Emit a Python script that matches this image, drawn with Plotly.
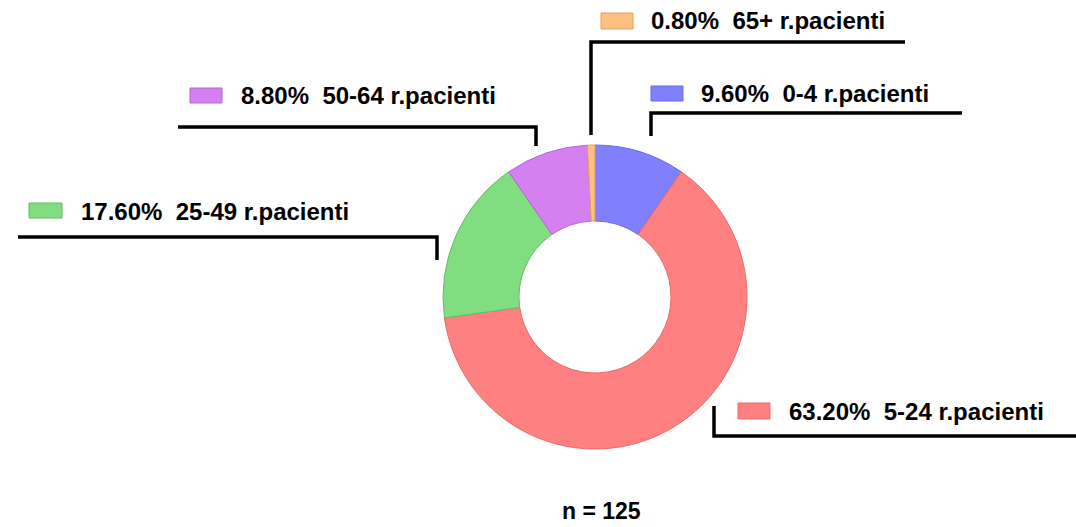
import plotly.graph_objects as go

# age groups and patient counts (n = 125)
groups = ["0-4 r.pacienti", "5-24 r.pacienti", "25-49 r.pacienti", "50-64 r.pacienti", "65+ r.pacienti"]
counts = [12, 79, 22, 11, 1]
colors = ["#8080ff", "#ff8080", "#80dd80", "#d580f0", "#ffbf80"]
edges = ["#6a6ae0", "#e86a6a", "#66bb66", "#b566d0", "#e0a060"]

W, H = 1076, 527
total = sum(counts)

# label layout in pixels: swatch box, text start, leader path
label_pos = {
	"0-4 r.pacienti": dict(box=(651, 86, 683, 101), tx=699, ty=93, path=[(651, 136), (651, 113), (962, 113)]),
	"5-24 r.pacienti": dict(box=(738, 403, 770, 419), tx=787, ty=411, path=[(714, 406), (714, 436), (1076, 436)]),
	"25-49 r.pacienti": dict(box=(29, 203, 62, 218), tx=79, ty=211, path=[(18, 237), (437, 237), (437, 260)]),
	"50-64 r.pacienti": dict(box=(190, 88, 222, 103), tx=239, ty=96, path=[(178, 127), (536, 127), (536, 146)]),
	"65+ r.pacienti": dict(box=(601, 13, 633, 29), tx=649, ty=21, path=[(591, 135), (591, 42), (905, 42)]),
}

def px(x):
	return x / W

def py(y):
	return 1 - y / H

cx, cy, r = 595, 297, 152

fig = go.Figure(go.Pie(
	labels=groups,
	values=counts,
	hole=0.5,
	sort=False,
	direction="clockwise",
	rotation=0,
	textinfo="none",
	hoverinfo="label+percent",
	marker=dict(colors=colors, line=dict(color=edges, width=1)),
	domain=dict(x=[px(cx - r), px(cx + r)], y=[py(cy + r), py(cy - r)]),
	showlegend=False,
))

shapes = []
annotations = []
for g, c, e, n in zip(groups, colors, edges, counts):
	p = label_pos[g]
	x0, y0, x1, y1 = p["box"]
	shapes.append(dict(type="rect", xref="paper", yref="paper",
		x0=px(x0), x1=px(x1), y0=py(y1), y1=py(y0),
		fillcolor=c, line=dict(color=e, width=1)))
	d = "M " + " L ".join("%f,%f" % (px(a), py(b)) for a, b in p["path"])
	shapes.append(dict(type="path", xref="paper", yref="paper", path=d,
		line=dict(color="black", width=3.5)))
	annotations.append(dict(
		x=px(p["tx"]), y=py(p["ty"]), xref="paper", yref="paper",
		xanchor="left", yanchor="middle", showarrow=False,
		text="%.2f%%  %s" % (n / total * 100, g),
		font=dict(family="Arial, Liberation Sans", size=24, color="black", weight="bold")))

annotations.append(dict(
	x=px(601), y=py(526), xref="paper", yref="paper",
	xanchor="center", yanchor="bottom", showarrow=False,
	text="n = %d" % total,
	font=dict(family="Arial, Liberation Sans", size=23, color="black", weight="bold")))

fig.update_layout(
	width=W, height=H,
	margin=dict(l=0, r=0, t=0, b=0),
	paper_bgcolor="white",
	plot_bgcolor="white",
	shapes=shapes,
	annotations=annotations,
)

# page body has a default margin that shifts the figure
fig.write_html("out.html", config={"displayModeBar": False},
	post_script="document.body.style.margin='0';")
